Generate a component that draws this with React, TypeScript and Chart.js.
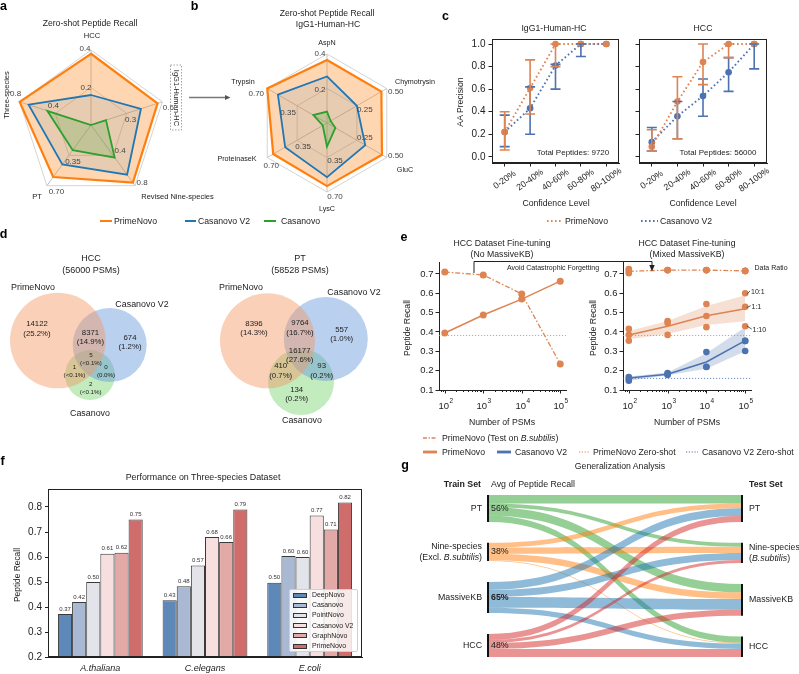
import React, { useEffect, useRef } from "react";
import { Chart, registerables } from "chart.js";

Chart.register(...registerables);

const FONT = "'Liberation Sans', Arial, Helvetica, sans-serif";
Chart.defaults.font.family = FONT;
Chart.defaults.font.size = 9;
Chart.defaults.color = "#222";

/* ---------------- colours ---------------- */
const C_ORANGE = "#ff7f0e";
const C_BLUE = "#1f77b4";
const C_GREEN = "#2ca02c";
const S_ORANGE = "#dd8452";
const S_BLUE = "#4c72b0";

/* ---------------- panel a : radar ---------------- */
const radarAAxes = ["HCC", "IgG1-Human-HC", "Revised Nine-species", "PT", "Three-species"];
const radarAMax = [0.4, 0.6, 0.8, 0.7, 0.8];
const radarATickLabels = [["0.2", "0.4"], ["0.3", "0.6"], ["0.4", "0.8"], ["0.35", "0.70"], ["0.4", "0.8"]];
const radarAPrimeNovo = [0.38, 0.56, 0.76, 0.6, 0.8];
const radarACasanovoV2 = [0.16, 0.42, 0.655, 0.455, 0.7];
const radarACasanovo = [0.0, 0.126, 0.43, 0.29, 0.49];

/* ---------------- panel b : radar ---------------- */
const radarBAxes = ["AspN", "Chymotrysin", "GluC", "LysC", "ProteinaseK", "Trypsin"];
const radarBMax = [0.4, 0.5, 0.5, 0.7, 0.7, 0.7];
const radarBTickLabels = [["0.2", "0.4"], ["0.25", "0.50"], ["0.25", "0.50"], ["0.35", "0.70"], ["0.35", "0.70"], ["0.35", "0.70"]];
const radarBPrimeNovo = [0.365, 0.455, 0.46, 0.64, 0.63, 0.7];
const radarBCasanovoV2 = [0.27, 0.25, 0.32, 0.55, 0.49, 0.575];
const radarBCasanovo = [0.066, 0.03, 0.07, 0.24, 0.05, 0.16];

/* ---------------- panel c : AA precision ---------------- */
const confLevels = ["0-20%", "20-40%", "40-60%", "60-80%", "80-100%"];
const cYTicks = [0, 0.2, 0.4, 0.6, 0.8, 1.0];
const igPrime = [0.22, 0.61, 1.0, 1.0, 1.0];
const igPrimeLo = [0.06, 0.38, 0.8, 1.0, 1.0];
const igPrimeHi = [0.4, 0.86, 1.0, 1.0, 1.0];
const igCasV2 = [0.22, 0.43, 0.81, 1.0, 1.0];
const igCasV2Lo = [0.09, 0.2, 0.6, 0.89, 1.0];
const igCasV2Hi = [0.37, 0.62, 0.82, 1.0, 1.0];
const hccPrime = [0.09, 0.49, 0.84, 1.0, 1.0];
const hccPrimeLo = [0.05, 0.16, 0.64, 0.88, 1.0];
const hccPrimeHi = [0.24, 0.71, 1.0, 1.0, 1.0];
const hccCasV2 = [0.13, 0.36, 0.54, 0.75, 1.0];
const hccCasV2Lo = [0.05, 0.16, 0.36, 0.58, 0.78];
const hccCasV2Hi = [0.26, 0.49, 0.69, 0.88, 1.0];

/* ---------------- panel d : venn ---------------- */
const vennSets = ["PrimeNovo", "Casanovo V2", "Casanovo"];
// regions: P only, V2 only, P&V2, C only, P&C, V2&C, all three
const hccVennCounts = [14122, 674, 8371, 2, 1, 0, 5];
const ptVennCounts = [8396, 557, 9764, 134, 410, 93, 16177];
const hccVennTotal = 56000;
const ptVennTotal = 58528;

/* ---------------- panel e : fine-tuning ---------------- */
const psmCounts = [100, 1000, 10000, 100000];
const eYTicks = [0.1, 0.2, 0.3, 0.4, 0.5, 0.6, 0.7];
const primeZeroShot = 0.382;
const casV2ZeroShot = 0.16;
const eLeftBsub = [0.71, 0.695, 0.597, 0.235];
const eLeftHcc = [0.395, 0.488, 0.57, 0.663];
const eRightBsubMean = [0.714, 0.72, 0.72, 0.716];
const eRightBsub10to1 = [0.726, 0.72, 0.72, 0.716];
const eRightBsub1to1 = [0.716, 0.719, 0.72, 0.716];
const eRightBsub1to10 = [0.704, 0.72, 0.719, 0.715];
const eRightPrimeMean = [0.385, 0.43, 0.484, 0.52];
const eRightPrime10to1 = [0.416, 0.457, 0.545, 0.6];
const eRightPrime1to1 = [0.385, 0.447, 0.483, 0.53];
const eRightPrime1to10 = [0.355, 0.385, 0.425, 0.43];
const eRightPrimeBandLo = [0.363, 0.39, 0.436, 0.455];
const eRightPrimeBandHi = [0.405, 0.457, 0.535, 0.59];
const eRightCasMean = [0.162, 0.182, 0.245, 0.355];
const eRightCas10to1 = [0.167, 0.188, 0.296, 0.354];
const eRightCas1to1 = [0.157, 0.178, 0.219, 0.302];
const eRightCas1to10 = [0.148, 0.183, 0.22, 0.354];
const eRightCasBandLo = [0.148, 0.176, 0.21, 0.3];
const eRightCasBandHi = [0.17, 0.19, 0.29, 0.425];

/* ---------------- panel f : bars ---------------- */
const fCategories = ["A.thaliana", "C.elegans", "E.coli"];
const fMethods = ["DeepNovo", "Casanovo", "PointNovo", "Casanovo V2", "GraphNovo", "PrimeNovo"];
const fDeepNovo = [0.372, 0.427, 0.497];
const fCasanovo = [0.42, 0.483, 0.604];
const fPointNovo = [0.5, 0.566, 0.6];
const fCasanovoV2 = [0.613, 0.68, 0.766];
const fGraphNovo = [0.617, 0.66, 0.71];
const fPrimeNovo = [0.75, 0.79, 0.818];
const fColors = ["#5d88b8", "#a9b9d3", "#e3e3ea", "#f7dfdf", "#e3a9a7", "#cf6c6c"];
const fYTicks = [0.2, 0.3, 0.4, 0.5, 0.6, 0.7, 0.8];

/* ---------------- panel g : sankey ---------------- */
const gTrainSets = ["PT", "Nine-species|(Excl. *B.subtilis*)", "MassiveKB", "HCC"];
const gTestSets = ["PT", "Nine-species|(*B.subtilis*)", "MassiveKB", "HCC"];
// rows: train set, columns: test set  (peptide recall)
const gRecall = [
  [0.7, 0.33, 0.7, 0.51],
  [0.4, 0.51, 0.55, 0.07],
  [0.65, 0.6, 0.9, 0.45],
  [0.5, 0.25, 0.5, 0.67],
];
const gColors = ["rgba(44,160,44,0.5)", "rgba(255,127,14,0.5)", "rgba(31,119,180,0.5)", "rgba(214,39,40,0.5)"];
const G_SPAN = 13.5;

/* ================= helpers ================= */
function ChartCanvas({ left, top, width, height, make }: any) {
  const ref = useRef<HTMLCanvasElement | null>(null);
  useEffect(() => {
    if (!ref.current) return;
    const chart = new Chart(ref.current, make());
    return () => chart.destroy();
  }, []);
  return (
    <canvas
      ref={ref}
      width={width}
      height={height}
      style={{ position: "absolute", left, top, width, height }}
    />
  );
}

function T({ x, y, children, size = 8.7, bold = false, italic = false, align = "center", rot = 0, color = "#222" }: any) {
  const tx = align === "center" ? "-50%" : align === "right" ? "-100%" : "0%";
  return (
    <div
      style={{
        position: "absolute",
        left: x,
        top: y,
        transform: `translate(${tx},-50%) rotate(${rot}deg)`,
        fontFamily: FONT,
        fontSize: size,
        fontWeight: bold ? 700 : 400,
        fontStyle: italic ? "italic" : "normal",
        whiteSpace: "nowrap",
        lineHeight: 1,
        color,
      }}
    >
      {children}
    </div>
  );
}

function drawRich(ctx: any, text: string, x: number, y: number, align: string, size: number, bold = false) {
  const parts = text.split("*").map((t, i) => [t, i % 2 === 1] as [string, boolean]);
  const fontOf = (it: boolean) => `${it ? "italic " : ""}${bold ? "bold " : ""}${size}px ${FONT}`;
  let w = 0;
  parts.forEach(([t, it]) => {
    ctx.font = fontOf(it);
    w += ctx.measureText(t).width;
  });
  let sx = align === "right" ? x - w : align === "center" ? x - w / 2 : x;
  ctx.textAlign = "left";
  parts.forEach(([t, it]) => {
    ctx.font = fontOf(it);
    ctx.fillText(t, sx, y);
    sx += ctx.measureText(t).width;
  });
}

const framePlugin = {
  id: "frame",
  afterDraw(chart: any) {
    const { ctx, chartArea: a } = chart;
    ctx.save();
    ctx.strokeStyle = "#222";
    ctx.lineWidth = 1;
    ctx.strokeRect(Math.round(a.left) + 0.5, Math.round(a.top) + 0.5, Math.round(a.right - a.left) - 1, Math.round(a.bottom - a.top) - 1);
    ctx.restore();
  },
};

const axisGrid = { display: true, drawOnChartArea: false, drawTicks: true, tickLength: 3.5, color: "#222", lineWidth: 1 };

/* ================= radar ================= */
function radarTicks(labels: string[][], offsets: number[][][]) {
  return {
    id: "radarTicks",
    afterDatasetsDraw(chart: any) {
      const s = chart.scales.r;
      const ctx = chart.ctx;
      ctx.save();
      ctx.font = `8px ${FONT}`;
      ctx.fillStyle = "#444";
      ctx.textAlign = "center";
      ctx.textBaseline = "middle";
      labels.forEach((pair, i) => {
        [0.5, 1].forEach((v, k) => {
          const p = s.getPointPositionForValue(i, v);
          ctx.fillText(pair[k], p.x + offsets[i][k][0], p.y + offsets[i][k][1]);
        });
      });
      ctx.restore();
    },
  };
}

function radarConfig(axes: string[], maxes: number[], prime: number[], v2: number[], cas: number[], tickLabels: string[][], tickOffsets: number[][][], padding: any) {
  const norm = (arr: number[]) => arr.map((v, i) => v / maxes[i]);
  const ds = (label: string, data: number[], color: string, fillc: string, w: number) => ({
    label,
    data: norm(data),
    borderColor: color,
    backgroundColor: fillc,
    borderWidth: w,
    borderJoinStyle: "miter",
    fill: true,
    pointRadius: 0,
  });
  return {
    type: "radar",
    data: {
      labels: axes,
      datasets: [
        ds("Casanovo", cas, C_GREEN, "rgba(44,160,44,0.2)", 1.8),
        ds("Casanovo V2", v2, C_BLUE, "rgba(31,119,180,0.1)", 1.8),
        ds("PrimeNovo", prime, C_ORANGE, "rgba(255,127,14,0.32)", 2.2),
      ],
    },
    options: {
      responsive: false,
      animation: false,
      events: [],
      layout: { padding, autoPadding: false },
      plugins: { legend: { display: false }, tooltip: { enabled: false } },
      scales: {
        r: {
          min: 0,
          max: 1,
          ticks: { display: false, stepSize: 0.5 },
          pointLabels: { display: false },
          grid: { color: "#d4d4d4", lineWidth: 1 },
          angleLines: { color: "#c4c4c4", lineWidth: 1 },
        },
      },
    },
    plugins: [radarTicks(tickLabels, tickOffsets)],
  };
}

const makeRadarA = () =>
  radarConfig(
    radarAAxes, radarAMax, radarAPrimeNovo, radarACasanovoV2, radarACasanovo, radarATickLabels,
    [[[-5, 0], [-6, -1]], [[4, 6], [6, 6]], [[7, -5], [7, -3]], [[4, 6], [9.5, 6.5]], [[-2, -8], [-4, -8]]],
    { left: 16, right: 34, top: 50, bottom: 10 }
  );

const makeRadarB = () =>
  radarConfig(
    radarBAxes, radarBMax, radarBPrimeNovo, radarBCasanovoV2, radarBCasanovo, radarBTickLabels,
    [[[-7, 1.5], [-7, 0]], [[8, 4], [9, 3.5]], [[8, -2], [9, -1.5]], [[8, 3.5], [8, 5]], [[6, 7], [4, 8.5]], [[-9, 7], [-11, 5.5]]],
    { left: 28, right: 23, top: 54, bottom: 17 }
  );

/* ================= panel c ================= */
const errorBarPlugin = {
  id: "errorBars",
  afterDatasetsDraw(chart: any) {
    const { ctx, scales } = chart;
    const x = scales.x, y = scales.y;
    chart.data.datasets.slice().reverse().forEach((d: any) => {
      if (!d.lo) return;
      ctx.save();
      ctx.strokeStyle = d.borderColor;
      ctx.lineWidth = 1.6;
      d.data.forEach((_: number, i: number) => {
        const px = x.getPixelForValue(i);
        const y0 = y.getPixelForValue(d.lo[i]);
        const y1 = y.getPixelForValue(d.hi[i]);
        if (Math.abs(y0 - y1) < 0.5) return;
        ctx.beginPath();
        ctx.moveTo(px, y0);
        ctx.lineTo(px, y1);
        ctx.moveTo(px - 5, y0);
        ctx.lineTo(px + 5, y0);
        ctx.moveTo(px - 5, y1);
        ctx.lineTo(px + 5, y1);
        ctx.stroke();
      });
      ctx.restore();
    });
  },
};

const rotatedXLabels = {
  id: "rotX",
  afterDraw(chart: any) {
    const { ctx, chartArea, scales } = chart;
    const x = scales.x;
    ctx.save();
    ctx.font = `8.8px ${FONT}`;
    ctx.fillStyle = "#222";
    ctx.textAlign = "center";
    ctx.textBaseline = "middle";
    chart.data.labels.forEach((l: string, i: number) => {
      const px = x.getPixelForValue(i);
      ctx.save();
      ctx.translate(px, chartArea.bottom + 17);
      ctx.rotate((-35 * Math.PI) / 180);
      ctx.fillText(l, 0, 0);
      ctx.restore();
    });
    ctx.restore();
  },
};

function cConfig(prime: number[], pLo: number[], pHi: number[], cas: number[], cLo: number[], cHi: number[], showY: boolean) {
  const ds = (label: string, data: number[], lo: number[], hi: number[], color: string) => ({
    label,
    data,
    lo,
    hi,
    borderColor: color,
    backgroundColor: color,
    pointBackgroundColor: color,
    borderDash: [1.6, 2.6],
    borderWidth: 1.9,
    pointRadius: 3.3,
    pointBorderWidth: 0,
    fill: false,
  });
  return {
    type: "line",
    data: {
      labels: confLevels,
      datasets: [ds("PrimeNovo", prime, pLo, pHi, S_ORANGE), ds("Casanovo V2", cas, cLo, cHi, S_BLUE)],
    },
    options: {
      responsive: false,
      animation: false,
      events: [],
      layout: { padding: { top: 19, right: showY ? 6 : 32, left: 0, bottom: 0 }, autoPadding: false },
      plugins: { legend: { display: false }, tooltip: { enabled: false } },
      scales: {
        x: {
          type: "category",
          offset: true,
          grid: axisGrid,
          border: { color: "#222" },
          ticks: { display: false },
          afterFit: (s: any) => { s.height = 57; },
        },
        y: {
          min: -0.055,
          max: 1.045,
          afterBuildTicks: (s: any) => { s.ticks = cYTicks.map((v) => ({ value: v })); },
          ticks: { display: showY, font: { size: 10 }, padding: 3, callback: (v: any) => Number(v).toFixed(1) },
          grid: axisGrid,
          border: { color: "#222" },
          afterFit: (s: any) => { s.width = showY ? 42 : 14; },
        },
      },
    },
    plugins: [errorBarPlugin, framePlugin, rotatedXLabels],
  };
}

const makeCLeft = () => cConfig(igPrime, igPrimeLo, igPrimeHi, igCasV2, igCasV2Lo, igCasV2Hi, true);
const makeCRight = () => cConfig(hccPrime, hccPrimeLo, hccPrimeHi, hccCasV2, hccCasV2Lo, hccCasV2Hi, false);

/* ================= panel d (venn) ================= */
const makeVenn = () => {
  // circle geometry (layout, in pixel units of the chart's own scales)
  const hccCircles = [[57.8, 100.5, 47.8], [109.7, 105, 37], [90, 135, 25]];
  const ptCircles = [[267.5, 100.8, 47.5], [325.8, 99, 42], [301, 142, 33]];
  const colors = ["rgba(245,150,100,0.45)", "rgba(100,150,220,0.45)", "rgba(120,210,110,0.45)"];
  const datasets: any[] = [];
  [hccCircles, ptCircles].forEach((circles) =>
    circles.forEach((c, i) =>
      datasets.push({
        label: vennSets[i],
        data: [{ x: c[0], y: c[1], r: c[2] }],
        backgroundColor: colors[i],
        borderColor: "rgba(0,0,0,0)",
        borderWidth: 0,
      })
    )
  );
  return {
    type: "bubble",
    data: { datasets },
    options: {
      responsive: false,
      animation: false,
      events: [],
      layout: { padding: 0, autoPadding: false },
      plugins: { legend: { display: false }, tooltip: { enabled: false } },
      scales: {
        x: { type: "linear", min: 0, max: 400, display: false },
        y: { type: "linear", min: 0, max: 190, reverse: true, display: false },
      },
    },
  };
};

/* ================= panel e ================= */
const E_XMIN = Math.pow(10, 1.85);
const E_XMAX = Math.pow(10, 5.15);
const eLogTicks: number[] = [];
for (let e = 1; e <= 5; e++)
  for (let m = 1; m <= 9; m++) {
    const v = m * Math.pow(10, e);
    if (v >= E_XMIN && v <= E_XMAX) eLogTicks.push(v);
  }
const isPow10 = (v: number) => Math.abs(Math.log10(v) - Math.round(Math.log10(v))) < 1e-9;

const logAxisPlugin = {
  id: "logAxis",
  afterDraw(chart: any) {
    const { ctx, chartArea, scales } = chart;
    const x = scales.x;
    ctx.save();
    ctx.strokeStyle = "#222";
    ctx.fillStyle = "#222";
    ctx.lineWidth = 1;
    eLogTicks.forEach((v) => {
      const px = Math.round(x.getPixelForValue(v)) + 0.5;
      const major = isPow10(v);
      ctx.beginPath();
      ctx.moveTo(px, chartArea.bottom);
      ctx.lineTo(px, chartArea.bottom + (major ? 3.5 : 2));
      ctx.stroke();
      if (major) {
        const ex = String(Math.round(Math.log10(v)));
        ctx.font = `9.5px ${FONT}`;
        const w1 = ctx.measureText("10").width;
        ctx.font = `6.5px ${FONT}`;
        const w2 = ctx.measureText(ex).width;
        const sx = px - (w1 + w2) / 2;
        ctx.textAlign = "left";
        ctx.textBaseline = "middle";
        ctx.font = `9.5px ${FONT}`;
        ctx.fillText("10", sx, chartArea.bottom + 16);
        ctx.font = `6.5px ${FONT}`;
        ctx.fillText(ex, sx + w1 + 0.5, chartArea.bottom + 11.5);
      }
    });
    ctx.restore();
  },
};

const pts = (arr: number[]) => psmCounts.map((x, i) => ({ x, y: arr[i] }));
const hline = (v: number) => [{ x: E_XMIN, y: v }, { x: E_XMAX, y: v }];

function eOptions(rightPad: number) {
  return {
    responsive: false,
    animation: false,
    events: [],
    layout: { padding: { top: 22, right: rightPad, left: 0, bottom: 0 }, autoPadding: false },
    plugins: { legend: { display: false }, tooltip: { enabled: false } },
    scales: {
      x: {
        type: "logarithmic",
        min: E_XMIN,
        max: E_XMAX,
        grid: { display: false },
        border: { display: true, color: "#222" },
        ticks: { display: false },
        afterBuildTicks: (s: any) => { s.ticks = eLogTicks.map((v) => ({ value: v, major: isPow10(v) })); },
        afterFit: (s: any) => { s.height = 30; },
      },
      y: {
        type: "linear",
        min: 0.1,
        max: 0.762,
        afterBuildTicks: (s: any) => { s.ticks = eYTicks.map((v) => ({ value: v })); },
        ticks: { font: { size: 9.5 }, padding: 2, callback: (v: any) => Number(v).toFixed(1) },
        grid: axisGrid,
        border: { color: "#222" },
        afterFit: (s: any) => { s.width = 41; },
      },
    },
  };
}

const lineDs = (label: string, data: any[], color: string, extra: any = {}) => ({
  label,
  data,
  borderColor: color,
  backgroundColor: color,
  pointBackgroundColor: color,
  pointBorderWidth: 0,
  borderWidth: 1.5,
  pointRadius: 0,
  fill: false,
  ...extra,
});

const makeELeft = () => ({
  type: "line",
  data: {
    datasets: [
      lineDs("PrimeNovo (Test on B.subtilis)", pts(eLeftBsub), S_ORANGE, { borderDash: [5, 2, 1.5, 2], borderWidth: 1.3, pointRadius: 3.5, order: 1 }),
      lineDs("PrimeNovo", pts(eLeftHcc), S_ORANGE, { pointRadius: 3.5, order: 2 }),
      lineDs("PrimeNovo Zero-shot", hline(primeZeroShot), "rgba(221,132,82,0.8)", { borderDash: [1.2, 1.8], borderWidth: 1, order: 5 }),
    ],
  },
  options: eOptions(4),
  plugins: [logAxisPlugin],
});

const makeERight = () => ({
  type: "line",
  data: {
    datasets: [
      lineDs("band hi", pts(eRightPrimeBandHi), "rgba(221,132,82,0.25)", { borderWidth: 0, fill: "+1", order: 20 }),
      lineDs("band lo", pts(eRightPrimeBandLo), "rgba(221,132,82,0.25)", { borderWidth: 0, order: 21 }),
      lineDs("band hi", pts(eRightCasBandHi), "rgba(76,114,176,0.25)", { borderWidth: 0, fill: "+1", order: 22 }),
      lineDs("band lo", pts(eRightCasBandLo), "rgba(76,114,176,0.25)", { borderWidth: 0, order: 23 }),
      lineDs("PrimeNovo Zero-shot", hline(primeZeroShot), "rgba(221,132,82,0.8)", { borderDash: [1.2, 1.8], borderWidth: 1, order: 15 }),
      lineDs("Casanovo V2 Zero-shot", hline(casV2ZeroShot), "rgba(76,114,176,0.8)", { borderDash: [1.2, 1.8], borderWidth: 1, order: 15 }),
      lineDs("PrimeNovo", pts(eRightPrimeMean), S_ORANGE, { order: 10 }),
      lineDs("Casanovo V2", pts(eRightCasMean), S_BLUE, { order: 10 }),
      lineDs("PrimeNovo (Test on B.subtilis)", pts(eRightBsubMean), S_ORANGE, { borderDash: [5, 2, 1.5, 2], borderWidth: 1.3, order: 10 }),
      lineDs("10:1", pts(eRightPrime10to1), S_ORANGE, { showLine: false, pointRadius: 3.3, order: 1 }),
      lineDs("1:1", pts(eRightPrime1to1), S_ORANGE, { showLine: false, pointRadius: 3.3, order: 1 }),
      lineDs("1:10", pts(eRightPrime1to10), S_ORANGE, { showLine: false, pointRadius: 3.3, order: 1 }),
      lineDs("10:1", pts(eRightCas10to1), S_BLUE, { showLine: false, pointRadius: 3.3, order: 1 }),
      lineDs("1:1", pts(eRightCas1to1), S_BLUE, { showLine: false, pointRadius: 3.3, order: 1 }),
      lineDs("1:10", pts(eRightCas1to10), S_BLUE, { showLine: false, pointRadius: 3.3, order: 1 }),
      lineDs("10:1", pts(eRightBsub10to1), S_ORANGE, { showLine: false, pointRadius: 3.3, order: 1 }),
      lineDs("1:1", pts(eRightBsub1to1), S_ORANGE, { showLine: false, pointRadius: 3.3, order: 1 }),
      lineDs("1:10", pts(eRightBsub1to10), S_ORANGE, { showLine: false, pointRadius: 3.3, order: 1 }),
    ],
  },
  options: eOptions(3),
  plugins: [logAxisPlugin],
});

/* ================= panel f ================= */
const barLabelPlugin = {
  id: "barLabels",
  afterDatasetsDraw(chart: any) {
    const { ctx } = chart;
    ctx.save();
    ctx.font = `6px ${FONT}`;
    ctx.fillStyle = "#333";
    ctx.textAlign = "center";
    ctx.textBaseline = "bottom";
    chart.data.datasets.forEach((d: any, i: number) => {
      const meta = chart.getDatasetMeta(i);
      meta.data.forEach((bar: any, j: number) => {
        ctx.fillText(Number(d.data[j]).toFixed(2), bar.x, bar.y - 2);
      });
    });
    ctx.restore();
  },
};

const categoryLabelPlugin = {
  id: "catLabels",
  afterDraw(chart: any) {
    const { ctx, chartArea, scales } = chart;
    const x = scales.x;
    ctx.save();
    ctx.font = `italic 9px ${FONT}`;
    ctx.fillStyle = "#222";
    ctx.textAlign = "center";
    ctx.textBaseline = "middle";
    chart.data.labels.forEach((l: string, i: number) => {
      ctx.fillText(l, x.getPixelForValue(i), chartArea.bottom + 11);
    });
    ctx.restore();
  },
};

const makeBars = () => {
  const series = [fDeepNovo, fCasanovo, fPointNovo, fCasanovoV2, fGraphNovo, fPrimeNovo];
  return {
    type: "bar",
    data: {
      labels: fCategories,
      datasets: series.map((s, i) => ({
        label: fMethods[i],
        data: s,
        backgroundColor: fColors[i],
        borderColor: "#3a3a3a",
        borderWidth: 1,
        categoryPercentage: 0.81,
        barPercentage: 1.0,
      })),
    },
    options: {
      responsive: false,
      animation: false,
      events: [],
      layout: { padding: { top: 19, right: 6, left: 0, bottom: 0 }, autoPadding: false },
      plugins: { legend: { display: false }, tooltip: { enabled: false } },
      scales: {
        x: {
          grid: { display: false },
          border: { color: "#222" },
          ticks: { display: false },
          afterFit: (s: any) => { s.height = 17; },
        },
        y: {
          min: 0.2,
          max: 0.872,
          afterBuildTicks: (s: any) => { s.ticks = fYTicks.map((v) => ({ value: v })); },
          ticks: { font: { size: 10 }, padding: 3, callback: (v: any) => Number(v).toFixed(1) },
          grid: { ...axisGrid, tickLength: 3 },
          border: { color: "#222" },
          afterFit: (s: any) => { s.width = 48; },
        },
      },
    },
    plugins: [barLabelPlugin, framePlugin, categoryLabelPlugin],
  };
};

/* ================= panel g (sankey) ================= */
const sankeyPlugin = {
  id: "sankey",
  afterDatasetsDraw(chart: any) {
    const { ctx, scales } = chart;
    const x = scales.x, y = scales.y;
    const n = gTrainSets.length;
    const rowSum = gRecall.map((r) => r.reduce((a, b) => a + b, 0));
    const colSum = gTestSets.map((_, j) => gRecall.reduce((a, r) => a + r[j], 0));
    const total = rowSum.reduce((a, b) => a + b, 0);
    const gap = (G_SPAN - total) / (n - 1);
    const tops = (sums: number[]) => {
      const t: number[] = [];
      let acc = 0;
      sums.forEach((s) => { t.push(acc); acc += s + gap; });
      return t;
    };
    const lTop = tops(rowSum), rTop = tops(colSum);
    const lOff = lTop.slice(), rOff = rTop.slice();
    const X0 = x.getPixelForValue(0), X1 = x.getPixelForValue(1), XM = (X0 + X1) / 2;
    ctx.save();
    gRecall.forEach((row, i) =>
      row.forEach((w, j) => {
        const a0 = y.getPixelForValue(lOff[i]), a1 = y.getPixelForValue(lOff[i] + w);
        const b0 = y.getPixelForValue(rOff[j]), b1 = y.getPixelForValue(rOff[j] + w);
        lOff[i] += w;
        rOff[j] += w;
        ctx.fillStyle = gColors[i];
        ctx.beginPath();
        ctx.moveTo(X0, a0);
        ctx.bezierCurveTo(XM, a0, XM, b0, X1, b0);
        ctx.lineTo(X1, b1);
        ctx.bezierCurveTo(XM, b1, XM, a1, X0, a1);
        ctx.closePath();
        ctx.fill();
      })
    );
    ctx.strokeStyle = "#111";
    ctx.lineWidth = 2;
    lTop.forEach((t, i) => {
      ctx.beginPath();
      ctx.moveTo(X0 - 1, y.getPixelForValue(t));
      ctx.lineTo(X0 - 1, y.getPixelForValue(t + rowSum[i]));
      ctx.stroke();
    });
    rTop.forEach((t, j) => {
      ctx.beginPath();
      ctx.moveTo(X1 + 1, y.getPixelForValue(t));
      ctx.lineTo(X1 + 1, y.getPixelForValue(t + colSum[j]));
      ctx.stroke();
    });
    // labels
    ctx.fillStyle = "#222";
    ctx.textBaseline = "middle";
    const avgs = rowSum.map((s) => s / n);
    const maxAvg = Math.max(...avgs);
    const drawLabel = (label: string, cx: number, cy: number, align: string) => {
      const lines = label.split("|");
      lines.forEach((ln, k) => drawRich(ctx, ln, cx, cy + (k - (lines.length - 1) / 2) * 11, align, 8.8));
    };
    gTrainSets.forEach((lab, i) => {
      const cy = y.getPixelForValue(lTop[i] + rowSum[i] / 2);
      drawLabel(lab, X0 - 7, cy, "right");
      drawRich(ctx, `${Math.round(avgs[i] * 100)}%`, X0 + 2, cy, "left", 8.8, avgs[i] === maxAvg);
    });
    gTestSets.forEach((lab, j) => {
      const cy = y.getPixelForValue(rTop[j] + colSum[j] / 2);
      drawLabel(lab, X1 + 8, cy, "left");
    });
    const hy = chart.chartArea.top - 10;
    drawRich(ctx, "Train Set", X0 - 8, hy, "right", 8.8, true);
    drawRich(ctx, "Avg of Peptide Recall", X0 + 2, hy, "left", 8.8);
    drawRich(ctx, "Test Set", X1 + 8, hy, "left", 8.8, true);
    ctx.restore();
  },
};

const makeSankey = () => ({
  type: "scatter",
  data: { datasets: [{ data: [] }] },
  options: {
    responsive: false,
    animation: false,
    events: [],
    layout: { padding: { left: 89, right: 58, top: 25, bottom: 17 }, autoPadding: false },
    plugins: { legend: { display: false }, tooltip: { enabled: false } },
    scales: {
      x: { type: "linear", min: 0, max: 1, display: false },
      y: { type: "linear", min: 0, max: G_SPAN, reverse: true, display: false },
    },
  },
  plugins: [sankeyPlugin],
});

/* ================= venn labels ================= */
function pct(count: number, total: number) {
  const p = (count / total) * 100;
  if (count > 0 && p < 0.1) return "(<0.1%)";
  return `(${p.toFixed(1)}%)`;
}

const hccLabelPos = [[37, 329, 7.8], [130, 342.5, 7.8], [90.5, 337.5, 7.8], [90.7, 388, 6.2], [74.5, 371, 6.2], [106, 371, 6.2], [91, 359, 6.2]];
const ptLabelPos = [[254, 328.5, 7.8], [341.7, 334.5, 7.8], [300, 328, 7.8], [296.7, 394.5, 7.8], [280.7, 371, 7.8], [321.7, 371, 7.8], [299.7, 355.3, 7.8]];

function VennLabels({ counts, total, pos }: any) {
  return (
    <>
      {counts.map((c: number, i: number) => {
        const [x, y, s] = pos[i];
        const gap = s > 7 ? 4.7 : 3.8;
        return (
          <React.Fragment key={i}>
            <T x={x} y={y - gap} size={s}>{String(c)}</T>
            <T x={x} y={y + gap} size={s}>{pct(c, total)}</T>
          </React.Fragment>
        );
      })}
    </>
  );
}

/* ================= App ================= */
export default function App() {
  const letter = (ch: string, x: number, y: number) => <T x={x} y={y} size={12.5} bold color="#000">{ch}</T>;
  return (
    <div style={{ position: "absolute", left: 0, top: 0, width: 799, height: 674, background: "#fff", overflow: "hidden", fontFamily: FONT }}>
      <ChartCanvas left={0} top={0} width={200} height={210} make={makeRadarA} />
      <ChartCanvas left={230} top={0} width={190} height={210} make={makeRadarB} />
      <ChartCanvas left={450} top={20} width={175} height={200} make={makeCLeft} />
      <ChartCanvas left={625} top={20} width={174} height={200} make={makeCRight} />
      <ChartCanvas left={0} top={240} width={400} height={190} make={makeVenn} />
      <ChartCanvas left={398} top={240} width={172} height={180} make={makeELeft} />
      <ChartCanvas left={582} top={240} width={172} height={180} make={makeERight} />
      <ChartCanvas left={0} top={470} width={368} height={204} make={makeBars} />
      <ChartCanvas left={400} top={470} width={399} height={204} make={makeSankey} />

      <svg width={799} height={674} style={{ position: "absolute", left: 0, top: 0, pointerEvents: "none" }}>
        {/* a -> b arrow */}
        <line x1={189} y1={97.5} x2={226} y2={97.5} stroke="#7a7a7a" strokeWidth={1.3} />
        <polygon points="230.5,97.5 225,95 225,100" fill="#555" />
        {/* dashed box around IgG1-Human-HC */}
        <rect x={170.5} y={65} width={11} height={65} fill="none" stroke="#8a8a8a" strokeWidth={0.8} strokeDasharray="1.5,1.5" />
        {/* legend a/b */}
        <line x1={100} x2={112} y1={221} y2={221} stroke={C_ORANGE} strokeWidth={2} />
        <line x1={185} x2={196} y1={221} y2={221} stroke={C_BLUE} strokeWidth={2} />
        <line x1={264} x2={276} y1={221} y2={221} stroke={C_GREEN} strokeWidth={2} />
        {/* legend c */}
        <line x1={547} x2={563} y1={221} y2={221} stroke={S_ORANGE} strokeWidth={1.8} strokeDasharray="1.6,2.4" />
        <line x1={641} x2={658} y1={221} y2={221} stroke={S_BLUE} strokeWidth={1.8} strokeDasharray="1.6,2.4" />
        {/* e bracket */}
        <polyline points="474,273 474,261.5 652,261.5 652,266" fill="none" stroke="#222" strokeWidth={1} />
        <polygon points="652,271.5 649.3,265 654.7,265" fill="#222" />
        {/* e leader lines */}
        <line x1={746.7} y1={294.3} x2={750} y2={291} stroke="#333" strokeWidth={0.8} />
        <line x1={746.7} y1={307.7} x2={750.7} y2={305.7} stroke="#333" strokeWidth={0.8} />
        <line x1={746.7} y1={326} x2={751.7} y2={329} stroke="#333" strokeWidth={0.8} />
        {/* e legend */}
        <line x1={423} x2={437} y1={438} y2={438} stroke={S_ORANGE} strokeWidth={1.3} strokeDasharray="4,1.6,1.3,1.6" />
        <line x1={423} x2={437} y1={452} y2={452} stroke={S_ORANGE} strokeWidth={2.8} />
        <line x1={497} x2={511} y1={452} y2={452} stroke={S_BLUE} strokeWidth={2.8} />
        <line x1={579} x2={590} y1={452} y2={452} stroke={S_ORANGE} strokeWidth={1} strokeDasharray="1.2,1.6" />
        <line x1={686} x2={698} y1={452} y2={452} stroke={S_BLUE} strokeWidth={1} strokeDasharray="1.2,1.6" />
      </svg>

      {/* panel letters */}
      {letter("a", 3.5, 6)}
      {letter("b", 194.5, 6)}
      {letter("c", 445.5, 15.5)}
      {letter("d", 3.5, 233.5)}
      {letter("e", 404, 237)}
      {letter("f", 2.5, 461)}
      {letter("g", 405, 465)}

      {/* panel a texts */}
      <T x={90} y={23} size={8.6}>Zero-shot Peptide Recall</T>
      <T x={92} y={36} size={7.6}>HCC</T>
      <T x={176} y={97.5} size={7.5} rot={90}>IgG1-Human-HC</T>
      <T x={177.5} y={197} size={7.5}>Revised Nine-species</T>
      <T x={37} y={197} size={7.5}>PT</T>
      <T x={6.7} y={95} size={7.5} rot={-90}>Three-species</T>

      {/* panel b texts */}
      <T x={327} y={12.7} size={8.6}>Zero-shot Peptide Recall</T>
      <T x={328} y={23.5} size={8.6}>IgG1-Human-HC</T>
      <T x={327} y={43} size={7.2}>AspN</T>
      <T x={415} y={82} size={7.2}>Chymotrysin</T>
      <T x={405} y={170} size={7.2}>GluC</T>
      <T x={327} y={209} size={7.2}>LysC</T>
      <T x={237} y={159} size={7.2}>ProteinaseK</T>
      <T x={243} y={82} size={7.2}>Trypsin</T>

      {/* legend a/b */}
      <T x={114} y={221} align="left">PrimeNovo</T>
      <T x={198} y={221} align="left">Casanovo V2</T>
      <T x={281} y={221} align="left">Casanovo</T>

      {/* panel c texts */}
      <T x={554} y={28}>IgG1-Human-HC</T>
      <T x={703} y={28}>HCC</T>
      <T x={460} y={102} rot={-90}>AA Precision</T>
      <T x={556} y={203}>Confidence Level</T>
      <T x={703} y={203}>Confidence Level</T>
      <T x={573} y={153} size={8}>Total Peptides: 9720</T>
      <T x={718} y={153} size={8}>Total Peptides: 56000</T>
      <T x={565} y={221} align="left">PrimeNovo</T>
      <T x={660} y={221} align="left">Casanovo V2</T>

      {/* panel d texts */}
      <T x={91} y={258} size={9}>HCC</T>
      <T x={91} y={269.5} size={9}>(56000 PSMs)</T>
      <T x={300} y={258} size={9}>PT</T>
      <T x={300} y={269.5} size={9}>(58528 PSMs)</T>
      <T x={33} y={287} size={8.9}>{vennSets[0]}</T>
      <T x={142} y={304} size={8.9}>{vennSets[1]}</T>
      <T x={90} y={413} size={8.9}>{vennSets[2]}</T>
      <T x={241} y={287} size={8.9}>{vennSets[0]}</T>
      <T x={354} y={292} size={8.9}>{vennSets[1]}</T>
      <T x={302} y={420} size={8.9}>{vennSets[2]}</T>
      <VennLabels counts={hccVennCounts} total={hccVennTotal} pos={hccLabelPos} />
      <VennLabels counts={ptVennCounts} total={ptVennTotal} pos={ptLabelPos} />

      {/* panel e texts */}
      <T x={502} y={243}>HCC Dataset Fine-tuning</T>
      <T x={502} y={254}>(No MassiveKB)</T>
      <T x={687} y={243}>HCC Dataset Fine-tuning</T>
      <T x={687} y={254}>(Mixed MassiveKB)</T>
      <T x={553} y={267} size={7}>Avoid Catastrophic Forgetting</T>
      <T x={407} y={328} rot={-90}>Peptide Recall</T>
      <T x={593} y={328} rot={-90}>Peptide Recall</T>
      <T x={502} y={422}>Number of PSMs</T>
      <T x={687} y={422}>Number of PSMs</T>
      <T x={771} y={267} size={7}>Data Ratio</T>
      <T x={751} y={291} size={7} align="left">10:1</T>
      <T x={751.5} y={306} size={7} align="left">1:1</T>
      <T x={752.5} y={329} size={7} align="left">1:10</T>
      <T x={442} y={438} align="left">PrimeNovo (Test on <i>B.subtilis</i>)</T>
      <T x={442} y={452} align="left">PrimeNovo</T>
      <T x={515} y={452} align="left">Casanovo V2</T>
      <T x={593} y={452} align="left">PrimeNovo Zero-shot</T>
      <T x={702} y={452} align="left">Casanovo V2 Zero-shot</T>

      {/* panel f texts */}
      <T x={203} y={477} size={8.9}>Performance on Three-species Dataset</T>
      <T x={17} y={575} rot={-90} size={8.4}>Peptide Recall</T>
      <div style={{ position: "absolute", left: 289, top: 589, width: 69, height: 63, border: "1px solid #cfcfcf", borderRadius: 2, background: "rgba(255,255,255,0.85)", boxSizing: "border-box" }} />
      {fMethods.map((m, i) => (
        <React.Fragment key={m}>
          <div style={{ position: "absolute", left: 293, top: 592.5 + i * 10.2, width: 14, height: 5, background: fColors[i], border: "1px solid #333", boxSizing: "border-box" }} />
          <T x={312} y={595 + i * 10.2} size={6.9} align="left">{m}</T>
        </React.Fragment>
      ))}

      {/* panel g title */}
      <T x={620} y={466}>Generalization Analysis</T>
    </div>
  );
}
